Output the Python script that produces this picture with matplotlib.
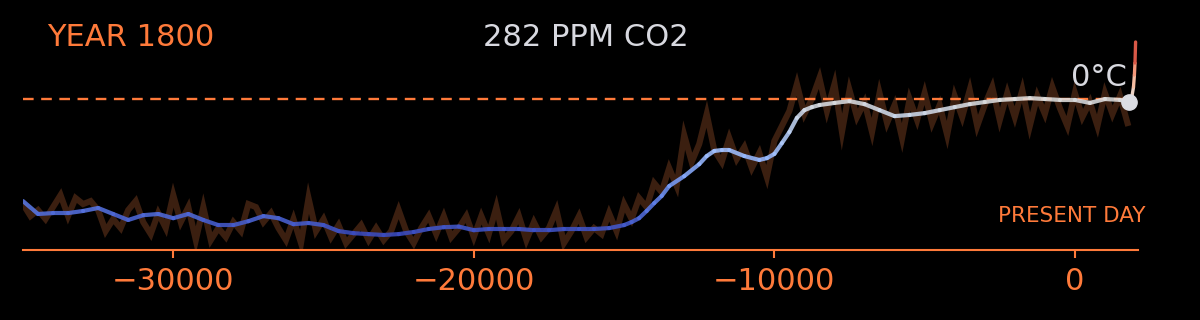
import numpy as np
import matplotlib
matplotlib.use("Agg")
import matplotlib.pyplot as plt
from matplotlib.collections import LineCollection
from matplotlib.colors import TwoSlopeNorm

# ---------------- data ----------------
# smoothed temperature anomaly (deg C)
trend_years = [-35000, -34500, -34000, -33500, -33000, -32500, -32000, -31500, -31000, -30500,
               -30000, -29500, -29000, -28500, -28000, -27500, -27000, -26500, -26000, -25500,
               -25000, -24500, -24000, -23500, -23000, -22500, -22000, -21500, -21000, -20500,
               -20000, -19500, -19000, -18500, -18000, -17500, -17000, -16500, -16000, -15500,
               -15000, -14750, -14500, -14250, -14000, -13750, -13500, -13000, -12500, -12250,
               -12000, -11750, -11500, -11000, -10500, -10250, -10000, -9750, -9500, -9250,
               -9000, -8750, -8500, -8000, -7500, -7000, -6500, -6000, -5500,
               -5000, -4500, -4000, -3500, -3000, -2500, -2000, -1500, -1000, -500,
               0, 500, 1000, 1500, 1800]
trend_temp = [-3.40, -3.83, -3.80, -3.80, -3.73, -3.63, -3.83, -4.03, -3.87, -3.83,
              -3.97, -3.83, -4.03, -4.20, -4.20, -4.07, -3.90, -3.97, -4.17, -4.13,
              -4.20, -4.40, -4.47, -4.50, -4.53, -4.50, -4.43, -4.33, -4.27, -4.25,
              -4.37, -4.33, -4.33, -4.33, -4.37, -4.37, -4.33, -4.33, -4.33, -4.30,
              -4.20, -4.10, -3.97, -3.73, -3.47, -3.23, -2.90, -2.57, -2.17, -1.90,
              -1.73, -1.70, -1.70, -1.90, -2.03, -1.97, -1.83, -1.47, -1.10, -0.63,
              -0.37, -0.27, -0.20, -0.13, -0.07, -0.17, -0.37, -0.57, -0.53,
              -0.47, -0.37, -0.27, -0.17, -0.10, -0.03, 0.00, 0.03, 0.00, -0.03,
              -0.03, -0.13, 0.00, -0.03, -0.10]

tail_years = [1800, 1850, 1900, 1950, 1980, 2000, 2020]
tail_temp = [-0.10, -0.05, 0.10, 0.40, 0.80, 1.20, 1.90]

# raw (noisy) reconstruction, every 250 years from -35000 to 1750
raw_start, raw_step = -35000, 250
raw_temp = [-3.5, -3.9, -3.7, -4.0, -3.6, -3.2, -3.9, -3.3, -3.5, -3.4,
            -3.7, -4.4, -4.0, -4.3, -3.7, -3.4, -4.1, -4.5, -3.8, -4.3,
            -3.2, -4.1, -3.6, -4.7, -3.6, -4.7, -4.3, -4.6, -4.1, -4.4,
            -3.5, -3.6, -4.1, -3.8, -4.3, -4.7, -4.0, -4.8, -3.3, -4.4,
            -4.0, -4.6, -4.2, -4.8, -4.5, -4.2, -4.7, -4.3, -4.7, -4.4,
            -3.7, -4.4, -4.8, -4.3, -3.9, -4.5, -3.9, -4.6, -4.3, -3.9,
            -4.6, -3.9, -4.5, -3.6, -4.7, -4.4, -3.9, -4.7, -4.1, -4.6,
            -4.3, -3.7, -4.8, -4.4, -3.9, -4.6, -4.3, -4.5, -3.8, -4.4,
            -3.5, -4.0, -3.3, -3.6, -2.8, -3.1, -2.3, -2.9, -1.2, -2.1,
            -1.5, -0.5, -1.7, -2.1, -1.3, -2.0, -1.6, -2.3, -1.8, -2.6,
            -1.4, -0.9, -0.4, 0.5, -0.5, 0.0, 0.7, -0.4, 0.5, -1.1,
            0.3, -0.6, -0.1, -1.1, 0.2, -0.8, -0.2, -1.3, 0.0, -0.7,
            0.2, -0.8, -0.2, -1.2, 0.1, -0.6, 0.3, -0.9, -0.2, 0.4,
            -0.7, 0.2, -0.6, 0.3, -0.9, 0.1, -0.5, 0.4, -0.3, -0.9,
            0.2, -0.6, -0.1, -0.9, 0.2, -0.5, 0.1, -0.8]
raw_years = raw_start + raw_step * np.arange(len(raw_temp))

current_year = 1800
current_temp = -0.10
co2_ppm = 282
xticks = [-30000, -20000, -10000, 0]

# ---------------- style ----------------
ORANGE = "#ff7a3a"
GREY = "#d8d9e0"
BROWN = "#3b1f10"

fig = plt.figure(figsize=(12, 3.2), dpi=100, facecolor="black")
ax = fig.add_axes([23 / 1200, 70 / 320, 1115 / 1200, 211 / 320], facecolor="black")

ax.plot(raw_years, raw_temp, color=BROWN, lw=4.4, solid_joinstyle="miter", zorder=1)

ax.plot([trend_years[0], current_year], [0, 0], color=ORANGE, lw=1.7,
        dashes=(4.5, 3.2), zorder=2)

norm = TwoSlopeNorm(vmin=-4.5, vcenter=0.0, vmax=2.0)
cmap = plt.get_cmap("coolwarm")

def colored_line(xs, ys, lw, z, alpha=1.0):
    pts = np.column_stack([xs, ys]).reshape(-1, 1, 2)
    segs = np.concatenate([pts[:-1], pts[1:]], axis=1)
    mids = (np.asarray(ys[:-1]) + np.asarray(ys[1:])) / 2
    lc = LineCollection(segs, colors=cmap(norm(mids)), linewidths=lw,
                        capstyle="round", joinstyle="round", zorder=z, alpha=alpha)
    ax.add_collection(lc)

colored_line(trend_years, trend_temp, 3.0, 3, alpha=0.88)
colored_line(tail_years, tail_temp, 2.4, 3)

ax.plot([current_year], [current_temp], "o", ms=11, color="#dcdde3", zorder=5)

ax.set_xlim(-35000, 2100)
ax.set_ylim(-5.03, 2.0)

for s in ["top", "left", "right"]:
    ax.spines[s].set_visible(False)
ax.spines["bottom"].set_color(ORANGE)
ax.spines["bottom"].set_linewidth(1.5)
ax.set_yticks([])
ax.set_xticks(xticks)
ax.set_xticklabels([f"\u2212{abs(t)}" if t < 0 else str(t) for t in xticks])
ax.tick_params(axis="x", colors=ORANGE, labelcolor=ORANGE, labelsize=22,
               length=6, width=1.5, pad=6)

fig.text(47 / 1200, 1 - 37 / 320, f"YEAR {current_year}", color=ORANGE,
         fontsize=22, ha="left", va="center")
fig.text(586 / 1200, 1 - 37 / 320, f"{co2_ppm} PPM CO2", color=GREY,
         fontsize=22, ha="center", va="center")
fig.text(1127 / 1200, 1 - 78 / 320, "0°C", color=GREY, fontsize=22,
         ha="right", va="center")
fig.text(1145 / 1200, 1 - 216 / 320, "PRESENT DAY", color=ORANGE, fontsize=15.5,
         ha="right", va="center")

fig.savefig("out.png", dpi=100, facecolor="black")
